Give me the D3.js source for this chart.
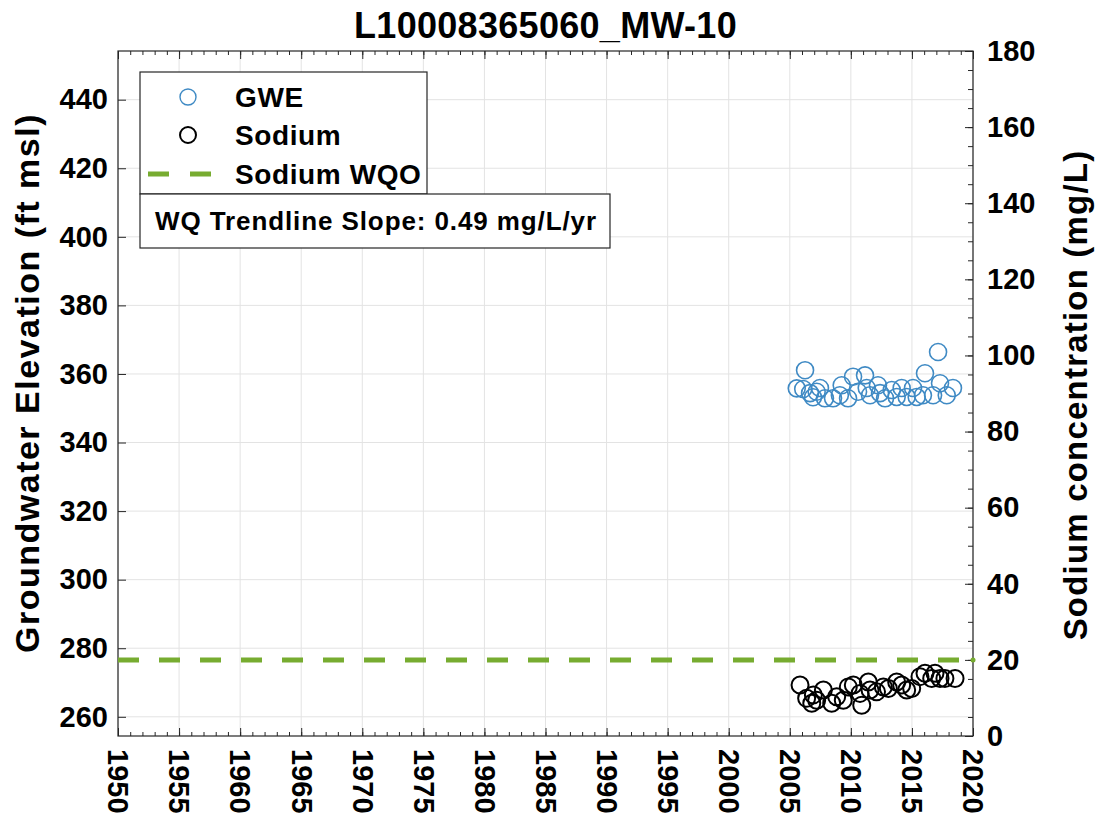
<!DOCTYPE html>
<html>
<head>
<meta charset="utf-8">
<script src="https://cdn.jsdelivr.net/npm/d3@7"></script>
<style>
  body { margin: 0; background: #fff; }
  text { font-family: "Liberation Sans", Arial, Helvetica, sans-serif; font-weight: bold; fill: #000; }
</style>
</head>
<body>
<div id="container"></div>
<script>
const title = "L10008365060_MW-10"
const slopeText = "WQ Trendline Slope: 0.49 mg/L/yr"

// GWE (ft msl)
const gweYears = [2005.57, 2006.1, 2006.25, 2006.66, 2006.9, 2007.2, 2007.47, 2007.88, 2008.54, 2009.1,
  2009.25, 2009.77, 2010.18, 2010.59, 2011.16, 2011.3, 2011.57, 2012.22, 2012.39, 2012.8,
  2013.35, 2013.75, 2014.16, 2014.57, 2015.09, 2015.39, 2015.9, 2016.07, 2016.73, 2017.14,
  2017.3, 2017.85, 2018.36]
const gweValues = [355.8, 355.6, 361.1, 354.4, 353.2, 354.8, 355.9, 352.9, 352.9, 353.8,
  356.7, 352.9, 359.2, 354.8, 359.6, 355.9, 353.8, 356.7, 354.4, 352.9,
  355.3, 353.3, 355.9, 353.3, 355.9, 353.3, 353.8, 360.2, 353.8, 366.4,
  357.3, 353.8, 355.9]

// Sodium (mg/L)
const naYears = [2005.84, 2006.38, 2006.8, 2006.93, 2007.2, 2007.75, 2008.43, 2008.84, 2009.38, 2009.79,
  2010.2, 2010.75, 2010.89, 2011.43, 2011.57, 2012.1, 2012.66, 2013.07, 2013.75, 2014.16,
  2014.57, 2014.98, 2015.66, 2016.07, 2016.62, 2016.89, 2017.3, 2017.7, 2018.53]
const naValues = [13.4, 9.9, 8.6, 10.8, 9.4, 12.1, 8.6, 10.3, 9.4, 12.9,
  13.4, 11.2, 8.1, 14.2, 12.1, 11.6, 12.9, 12.5, 14.2, 13.4,
  12.1, 12.5, 15.6, 16.5, 15.1, 16.5, 15.1, 15.1, 15.1]

const sodiumWQO = 20

const xTicks = d3.range(1950, 2021, 5)
const leftTicks = d3.range(260, 441, 20)
const rightTicks = d3.range(0, 181, 20)

const W = 1097, H = 823
const L = 118, T = 51, R = 973, B = 736

const blue = "#3f8ac4"
const green = "#77ac30"
const axisCol = "#262626"

const svg = d3.select('#container').append('svg')
  .attr('width', W)
  .attr('height', H)

const x = d3.scaleLinear().domain([1950, 2020]).range([L, R])
const yL = d3.scaleLinear().domain([254.4, 454.2]).range([B, T])
const yR = d3.scaleLinear().domain([0, 180]).range([B, T])

// grid
svg.append('g').selectAll('line')
  .data(xTicks)
  .enter().append('line')
  .attr('x1', d => x(d)).attr('x2', d => x(d))
  .attr('y1', T).attr('y2', B)
  .attr('stroke', '#e3e3e3').attr('stroke-width', 1)
svg.append('g').selectAll('line')
  .data(leftTicks)
  .enter().append('line')
  .attr('x1', L).attr('x2', R)
  .attr('y1', d => yL(d)).attr('y2', d => yL(d))
  .attr('stroke', '#e3e3e3').attr('stroke-width', 1)

function styleAxis (g) {
  g.select('.domain').remove()
  g.selectAll('line').attr('stroke', axisCol)
  g.selectAll('text').style('font-size', '29px').attr('fill', '#000')
}

// bottom axis
svg.append('g').attr('transform', `translate(0,${B})`)
  .call(d3.axisBottom(x).tickValues(d3.range(1950, 2021)).tickFormat('').tickSize(-4).tickSizeOuter(0))
  .call(styleAxis)
svg.append('g').attr('transform', `translate(0,${B})`)
  .call(d3.axisBottom(x).tickValues(xTicks).tickFormat(d3.format('d')).tickSize(-8).tickSizeOuter(0))
  .call(styleAxis)
  .call(g => g.selectAll('text')
    .attr('transform', 'rotate(90)')
    .attr('text-anchor', 'start')
    .attr('x', 13)
    .attr('y', 0)
    .attr('dy', '0.35em'))

// top axis
svg.append('g').attr('transform', `translate(0,${T})`)
  .call(d3.axisTop(x).tickValues(d3.range(1950, 2021)).tickFormat('').tickSize(-4).tickSizeOuter(0))
  .call(styleAxis)
svg.append('g').attr('transform', `translate(0,${T})`)
  .call(d3.axisTop(x).tickValues(xTicks).tickFormat('').tickSize(-8).tickSizeOuter(0))
  .call(styleAxis)

// left axis
svg.append('g').attr('transform', `translate(${L},0)`)
  .call(d3.axisLeft(yL).tickValues(leftTicks).tickSize(-8).tickPadding(10).tickSizeOuter(0))
  .call(styleAxis)

// right axis
svg.append('g').attr('transform', `translate(${R},0)`)
  .call(d3.axisRight(yR).tickValues(d3.range(0, 181, 5)).tickFormat('').tickSize(-5).tickSizeOuter(0))
  .call(styleAxis)
svg.append('g').attr('transform', `translate(${R},0)`)
  .call(d3.axisRight(yR).tickValues(rightTicks).tickSize(-8).tickPadding(14).tickSizeOuter(0))
  .call(styleAxis)

// box
svg.append('rect')
  .attr('x', L).attr('y', T)
  .attr('width', R - L).attr('height', B - T)
  .attr('fill', 'none').attr('stroke', axisCol).attr('stroke-width', 1.2)

// clip
svg.append('clipPath').attr('id', 'clip')
  .append('rect').attr('x', L).attr('y', T).attr('width', R - L).attr('height', B - T)
const plot = svg.append('g').attr('clip-path', 'url(#clip)')

// WQO line
plot.append('line')
  .attr('x1', x(1950)).attr('x2', x(2020))
  .attr('y1', yR(sodiumWQO)).attr('y2', yR(sodiumWQO))
  .attr('stroke', green).attr('stroke-width', 5)
  .attr('stroke-dasharray', '21,20')

// GWE points
plot.append('g').selectAll('circle')
  .data(gweYears.map((d, i) => ({ year: d, value: gweValues[i] })))
  .enter().append('circle')
  .attr('cx', d => x(d.year))
  .attr('cy', d => yL(d.value))
  .attr('r', 8.5)
  .attr('fill', 'none')
  .attr('stroke', blue)
  .attr('stroke-width', 1.6)

// Sodium points
plot.append('g').selectAll('circle')
  .data(naYears.map((d, i) => ({ year: d, value: naValues[i] })))
  .enter().append('circle')
  .attr('cx', d => x(d.year))
  .attr('cy', d => yR(d.value))
  .attr('r', 8.5)
  .attr('fill', 'none')
  .attr('stroke', '#000')
  .attr('stroke-width', 2)

// green dot on right axis at WQO
svg.append('circle')
  .attr('cx', R).attr('cy', yR(sodiumWQO)).attr('r', 2.5).attr('fill', green)

// title
svg.append('text')
  .attr('x', (L + R) / 2).attr('y', 38)
  .attr('text-anchor', 'middle')
  .style('font-size', '36px')
  .style('letter-spacing', '0.3px')
  .text(title)

// axis labels
svg.append('text')
  .attr('transform', `translate(39,383) rotate(-90)`)
  .attr('text-anchor', 'middle')
  .style('font-size', '34px')
  .style('letter-spacing', '1.5px')
  .text('Groundwater Elevation (ft msl)')
svg.append('text')
  .attr('transform', `translate(1087,395) rotate(-90)`)
  .attr('text-anchor', 'middle')
  .style('font-size', '33px')
  .style('letter-spacing', '1.2px')
  .text('Sodium concentration (mg/L)')

// legend
const leg = svg.append('g')
leg.append('rect')
  .attr('x', 140).attr('y', 72).attr('width', 287).attr('height', 122)
  .attr('fill', '#fff').attr('stroke', axisCol).attr('stroke-width', 1.2)
leg.append('rect')
  .attr('x', 140).attr('y', 194).attr('width', 470).attr('height', 54)
  .attr('fill', '#fff').attr('stroke', axisCol).attr('stroke-width', 1.2)

const legendItems = [
  { label: 'GWE', type: 'circle', color: blue, y: 97 },
  { label: 'Sodium', type: 'circle', color: '#000', y: 135 },
  { label: 'Sodium WQO', type: 'line', color: green, y: 174 }
]
legendItems.forEach(it => {
  if (it.type === 'circle') {
    leg.append('circle')
      .attr('cx', 188).attr('cy', it.y).attr('r', 8)
      .attr('fill', 'none').attr('stroke', it.color)
      .attr('stroke-width', it.color === '#000' ? 2 : 1.4)
  } else {
    leg.append('line')
      .attr('x1', 148).attr('x2', 211)
      .attr('y1', it.y).attr('y2', it.y)
      .attr('stroke', it.color).attr('stroke-width', 5)
      .attr('stroke-dasharray', '21,21')
  }
  leg.append('text')
    .attr('x', 235).attr('y', it.y)
    .attr('dy', '0.36em')
    .style('font-size', '28px')
    .style('letter-spacing', '0.6px')
    .text(it.label)
})
leg.append('text')
  .attr('x', 155).attr('y', 221)
  .attr('dy', '0.36em')
  .style('font-size', '26px')
  .style('letter-spacing', '0.9px')
  .text(slopeText)
</script>
</body>
</html>
